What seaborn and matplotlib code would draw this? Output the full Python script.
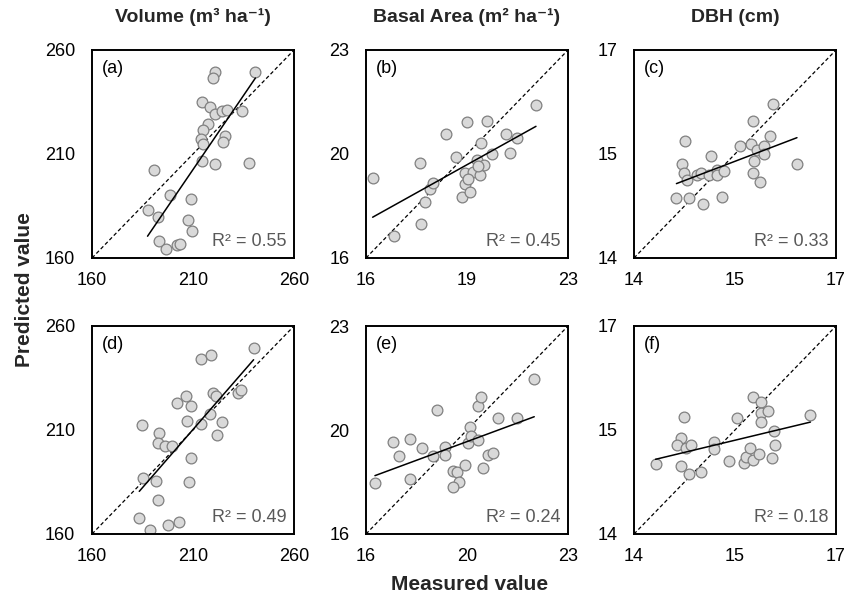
import pandas as pd
import seaborn as sns
import matplotlib.pyplot as plt

# (a) volume, top row
vol_meas_a = [220.8, 220.0, 240.9, 214.5, 218.3, 220.8, 224.4, 227.0, 234.4, 217.5,
              215.0, 214.2, 215.0, 225.7, 224.9, 214.7, 221.1, 237.6, 190.8, 198.5,
              208.9, 187.5, 192.8, 207.3, 209.6, 193.3, 196.4, 202.2, 203.5]
vol_pred_a = [249.6, 246.7, 249.6, 235.2, 232.8, 229.3, 230.7, 231.2, 230.7, 224.5,
              221.6, 217.3, 214.9, 218.7, 215.7, 206.4, 205.1, 205.9, 202.4, 190.4,
              188.3, 182.9, 179.7, 178.1, 173.1, 168.0, 164.5, 166.1, 166.9]

# (b) basal area, top row
ba_meas_b = [16.23, 16.98, 17.91, 17.88, 18.06, 18.22, 18.31, 18.77, 19.12, 19.31,
             19.43, 19.44, 19.49, 19.62, 19.72, 19.85, 19.96, 19.98, 20.08, 20.18,
             20.35, 20.85, 20.99, 21.22, 21.89, 19.87, 19.52]
ba_pred_b = [18.69, 16.74, 17.15, 19.20, 17.89, 18.32, 18.53, 20.17, 19.40, 18.05,
             18.49, 18.85, 20.57, 18.22, 18.88, 19.31, 18.79, 19.86, 19.14, 20.60,
             19.49, 20.17, 19.54, 20.04, 21.16, 19.08, 18.67]

# (c) DBH, top row
dbh_meas_c = [14.63, 14.82, 15.02, 15.30, 14.76, 14.72, 14.74, 14.79, 14.93, 14.99,
              15.11, 15.14, 15.23, 15.24, 15.34, 15.57, 15.76, 15.74, 15.78, 15.76,
              15.87, 15.82, 15.93, 15.93, 16.02, 16.06, 16.42]
dbh_pred_c = [14.86, 14.86, 14.78, 14.88, 15.69, 15.36, 15.22, 15.12, 15.19, 15.22,
              15.19, 15.47, 15.27, 15.19, 15.25, 15.61, 15.97, 15.65, 15.40, 15.23,
              15.09, 15.56, 15.62, 15.50, 15.76, 16.22, 15.36]

# (d) volume, bottom row
vol_meas_d = [240.0, 214.2, 219.1, 202.2, 206.3, 209.2, 220.0, 221.6, 232.3, 234.0,
              184.9, 207.1, 218.3, 214.2, 224.4, 221.9, 193.3, 192.8, 196.1, 199.4,
              208.8, 185.0, 191.9, 208.1, 192.8, 183.4, 188.7, 197.4, 203.0]
vol_pred_d = [249.6, 244.1, 246.1, 223.1, 226.5, 221.5, 227.8, 226.5, 227.7, 229.3,
              212.6, 214.3, 217.6, 213.1, 213.9, 207.6, 208.6, 203.6, 202.5, 202.2,
              196.3, 187.1, 185.5, 185.1, 176.2, 167.5, 162.0, 164.2, 165.9]

# (e) basal area, bottom row
ba_meas_e = [16.31, 16.92, 17.13, 17.54, 17.54, 17.94, 18.31, 18.46, 18.74, 18.74,
             19.00, 19.15, 19.23, 19.00, 19.43, 19.52, 19.62, 19.64, 19.87, 19.87,
             19.98, 20.04, 20.22, 20.39, 20.56, 21.22, 21.83]
ba_pred_e = [17.70, 19.11, 18.63, 19.19, 17.86, 18.90, 18.63, 20.16, 18.92, 18.66,
             18.13, 18.08, 17.76, 17.57, 18.31, 19.05, 19.60, 19.31, 19.17, 20.30,
             20.62, 18.23, 18.66, 18.72, 19.89, 19.89, 21.21]

# (f) DBH, bottom row
dbh_meas_f = [14.32, 14.70, 14.81, 15.00, 15.41, 15.63, 15.66, 15.76, 15.73, 15.86,
              16.05, 16.10, 16.08, 15.53, 15.76, 15.89, 15.88, 15.99, 15.89, 14.74,
              14.70, 14.64, 14.77, 14.84, 15.19, 15.19, 16.62]
dbh_pred_f = [15.01, 14.98, 14.87, 14.90, 15.06, 15.02, 15.11, 15.07, 15.24, 15.16,
              15.10, 15.28, 15.48, 15.68, 15.98, 15.90, 15.74, 15.77, 15.62, 15.69,
              15.38, 15.28, 15.24, 15.28, 15.33, 15.22, 15.72]

r2_labels = ['R² = 0.55', 'R² = 0.45', 'R² = 0.33', 'R² = 0.49', 'R² = 0.24', 'R² = 0.18']
panel_tags = ['(a)', '(b)', '(c)', '(d)', '(e)', '(f)']
col_titles = ['Volume (m³ ha⁻¹)', 'Basal Area (m² ha⁻¹)', 'DBH (cm)']

vol_ticks = [160, 210, 260]
ba_ticks = [16, 19.5, 23]
dbh_ticks = [14, 15.5, 17]
vol_labels = ['160', '210', '260']
ba_labels_top = ['16', '19', '23']
ba_labels = ['16', '20', '23']
dbh_labels = ['14', '15', '17']

panels = [
    (vol_meas_a, vol_pred_a, vol_ticks, vol_labels, vol_labels),
    (ba_meas_b, ba_pred_b, ba_ticks, ba_labels_top, ba_labels),
    (dbh_meas_c, dbh_pred_c, dbh_ticks, dbh_labels, dbh_labels),
    (vol_meas_d, vol_pred_d, vol_ticks, vol_labels, vol_labels),
    (ba_meas_e, ba_pred_e, ba_ticks, ba_labels, ba_labels),
    (dbh_meas_f, dbh_pred_f, dbh_ticks, dbh_labels, dbh_labels),
]

sns.set_style('white')
plt.rcParams['font.family'] = ['Liberation Sans', 'DejaVu Sans']

W, H = 847, 600
fig = plt.figure(figsize=(W / 100, H / 100), dpi=100)
lefts = [92, 366, 634]
tops = [50, 326]
box_w, box_h = 202, 208

for i, (meas, pred, ticks, xlabels, ylabels) in enumerate(panels):
    row, col = divmod(i, 3)
    ax = fig.add_axes([lefts[col] / W, 1 - (tops[row] + box_h) / H, box_w / W, box_h / H])
    lo, hi = ticks[0], ticks[-1]
    df = pd.DataFrame({'Measured': meas, 'Predicted': pred})

    # 1:1 line
    ax.plot([lo, hi], [lo, hi], color='black', lw=0.9, ls=(0, (3, 2)), zorder=1.5)
    sns.regplot(data=df, x='Measured', y='Predicted', ax=ax, ci=None,
                scatter_kws=dict(s=60, color='#d9d9d9', edgecolor='#808080',
                                 linewidths=0.9, alpha=1, zorder=2),
                line_kws=dict(color='black', lw=1.1, zorder=3))

    ax.set_xlim(lo, hi)
    ax.set_ylim(lo, hi)
    ax.set_xticks(ticks, xlabels)
    ax.set_yticks(ticks, ylabels)
    ax.set_xlabel('')
    ax.set_ylabel('')
    ax.tick_params(length=0, labelsize=13, colors='black')
    ax.tick_params(axis='x', pad=10)
    ax.tick_params(axis='y', pad=12)
    for s in ax.spines.values():
        s.set_color('black')
        s.set_linewidth(1.4)

    ax.text(0.05, 0.95, panel_tags[i], transform=ax.transAxes, ha='left', va='top',
            fontsize=13, color='black')
    ax.text(0.965, 0.04, r2_labels[i], transform=ax.transAxes, ha='right', va='bottom',
            fontsize=13, color='#595959')
    if row == 0:
        ax.set_title(col_titles[col], fontsize=14, fontweight='bold', pad=20)

fig.text(25 / W, 1 - 290 / H, 'Predicted value', rotation=90, ha='center', va='center',
         fontsize=15, fontweight='bold')
fig.text(470 / W, 1 - 585 / H, 'Measured value', ha='center', va='center',
         fontsize=15, fontweight='bold')

fig.savefig('out.png', dpi=100)
